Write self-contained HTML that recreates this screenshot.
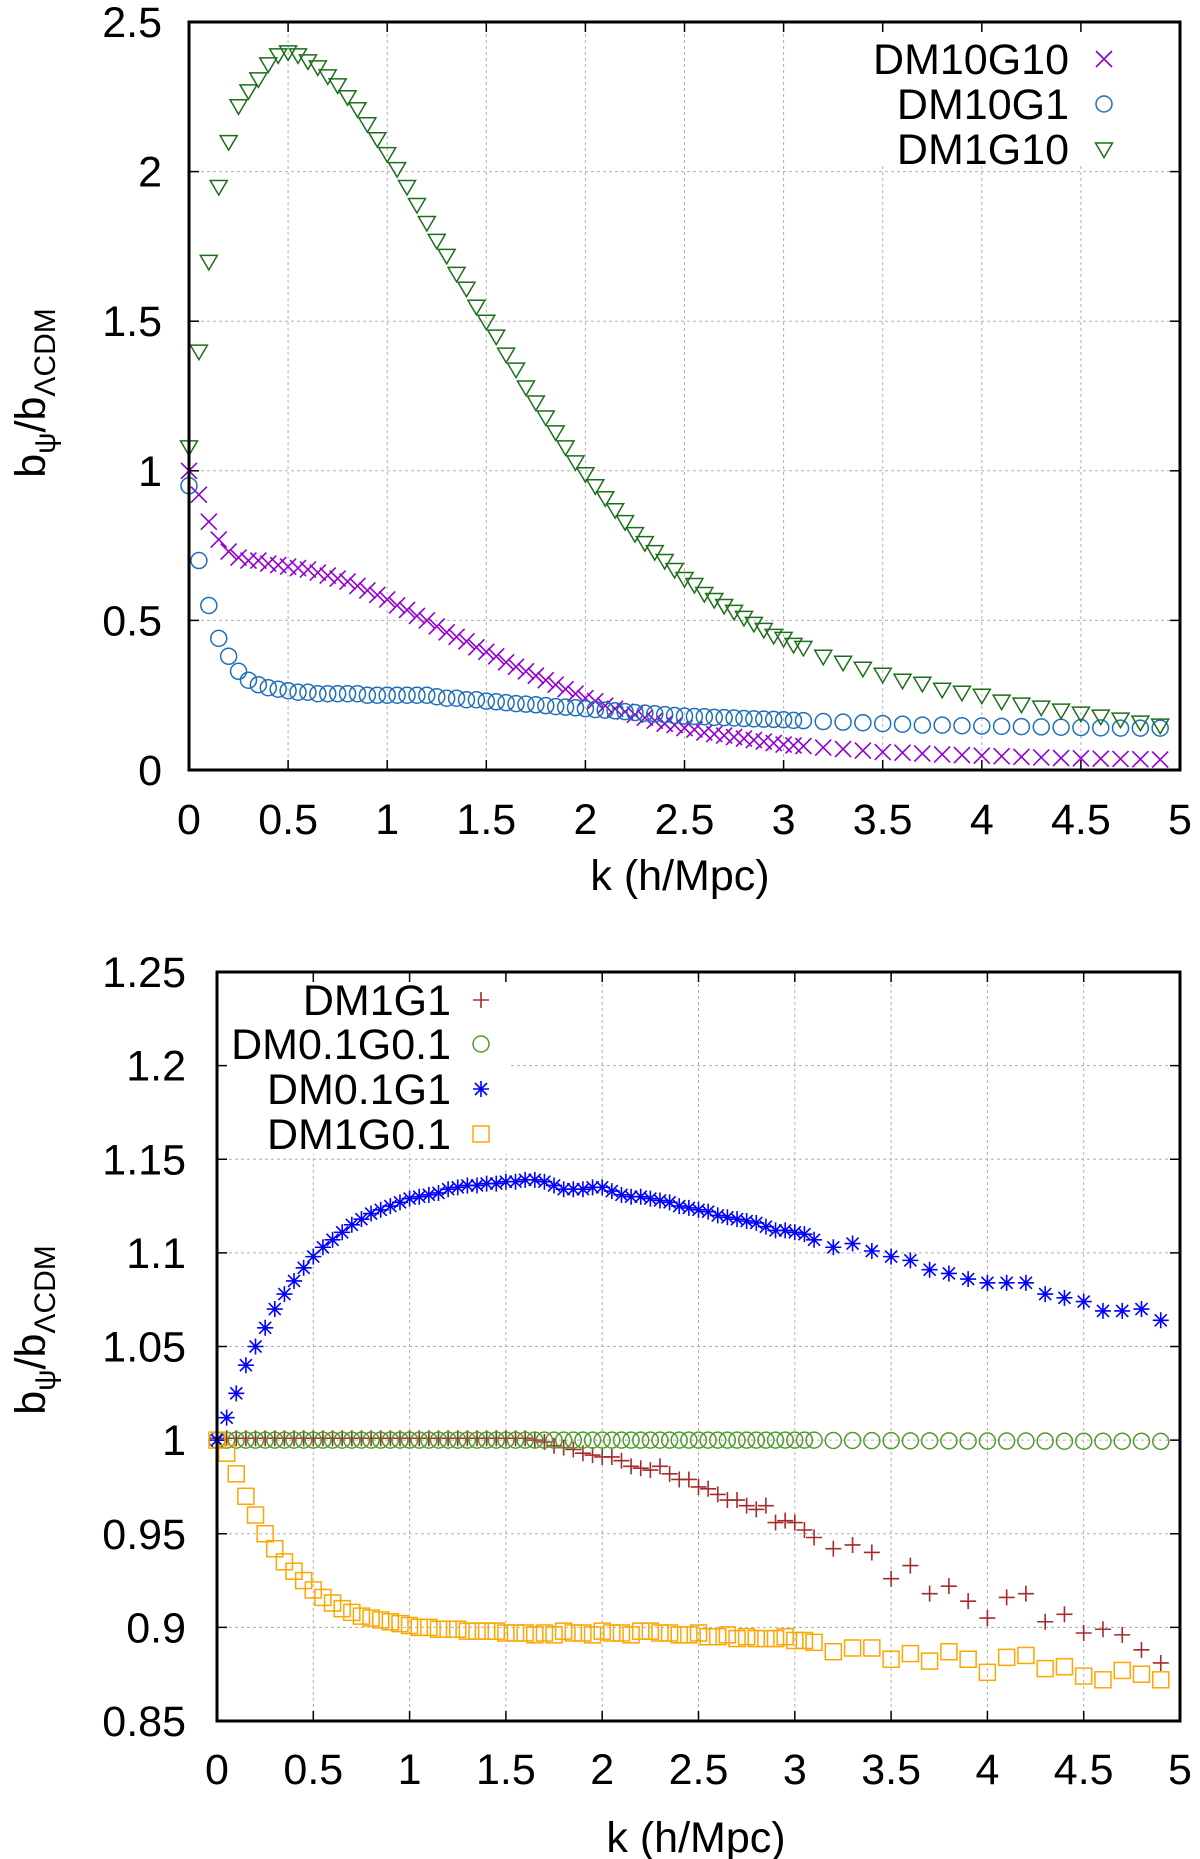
<!DOCTYPE html>
<html><head><meta charset="utf-8"><style>
html,body{margin:0;padding:0;background:#fff;}
svg{display:block;font-family:"Liberation Sans",sans-serif;}
</style></head>
<body>
<svg id="fig" width="1200" height="1859" viewBox="0 0 1200 1859" xmlns="http://www.w3.org/2000/svg"></svg>
<script>
// ---------- data ----------
const kValues = [0,0.05,0.1,0.15,0.2,0.25,0.3,0.35,0.4,0.45,0.5,0.55,0.6,0.65,0.7,0.75,0.8,0.85,0.9,0.95,1.0,1.05,1.1,1.15,1.2,1.25,1.3,1.35,1.4,1.45,1.5,1.55,1.6,1.65,1.7,1.75,1.8,1.85,1.9,1.95,2.0,2.05,2.1,2.15,2.2,2.25,2.3,2.35,2.4,2.45,2.5,2.55,2.6,2.65,2.7,2.75,2.8,2.85,2.9,2.95,3.0,3.05,3.1,3.2,3.3,3.4,3.5,3.6,3.7,3.8,3.9,4.0,4.1,4.2,4.3,4.4,4.5,4.6,4.7,4.8,4.9];
const xTicks = [0,0.5,1,1.5,2,2.5,3,3.5,4,4.5,5];
const xTickLabels = ["0","0.5","1","1.5","2","2.5","3","3.5","4","4.5","5"];
const topYTicks = [0,0.5,1,1.5,2,2.5];
const topYTickLabels = ["0","0.5","1","1.5","2","2.5"];
const botYTicks = [0.85,0.9,0.95,1,1.05,1.1,1.15,1.2,1.25];
const botYTickLabels = ["0.85","0.9","0.95","1","1.05","1.1","1.15","1.2","1.25"];

const dm1g10 = [1.08,1.40,1.70,1.95,2.10,2.22,2.27,2.31,2.36,2.39,2.40,2.39,2.37,2.35,2.32,2.29,2.25,2.21,2.16,2.11,2.06,2.01,1.95,1.89,1.83,1.77,1.72,1.66,1.61,1.55,1.50,1.45,1.39,1.34,1.28,1.23,1.18,1.13,1.08,1.03,0.99,0.95,0.91,0.87,0.83,0.79,0.76,0.73,0.70,0.67,0.64,0.62,0.59,0.57,0.55,0.53,0.51,0.49,0.47,0.45,0.44,0.42,0.41,0.38,0.36,0.34,0.32,0.30,0.29,0.27,0.26,0.25,0.23,0.22,0.21,0.20,0.19,0.18,0.17,0.16,0.15];
const dm10g10 = [1.0,0.92,0.83,0.77,0.73,0.71,0.70,0.70,0.69,0.685,0.68,0.675,0.67,0.66,0.65,0.64,0.63,0.615,0.60,0.585,0.57,0.55,0.535,0.515,0.50,0.48,0.46,0.445,0.43,0.41,0.395,0.38,0.36,0.345,0.33,0.315,0.30,0.285,0.27,0.255,0.24,0.23,0.215,0.205,0.195,0.185,0.175,0.165,0.155,0.15,0.14,0.135,0.125,0.12,0.115,0.11,0.105,0.10,0.095,0.09,0.085,0.082,0.08,0.075,0.07,0.065,0.06,0.058,0.055,0.052,0.05,0.048,0.046,0.044,0.042,0.04,0.039,0.038,0.037,0.036,0.035];
const dm10g1 = [0.95,0.70,0.55,0.44,0.38,0.33,0.30,0.285,0.275,0.27,0.265,0.26,0.26,0.255,0.255,0.255,0.255,0.255,0.25,0.25,0.25,0.25,0.25,0.25,0.25,0.245,0.24,0.24,0.235,0.235,0.23,0.228,0.225,0.222,0.22,0.218,0.215,0.212,0.21,0.208,0.205,0.202,0.2,0.198,0.195,0.192,0.19,0.188,0.185,0.182,0.18,0.179,0.178,0.176,0.175,0.174,0.172,0.171,0.17,0.169,0.168,0.166,0.165,0.162,0.16,0.158,0.155,0.153,0.15,0.15,0.148,0.147,0.146,0.145,0.144,0.143,0.142,0.141,0.14,0.14,0.14];

const dm1g1 = [1.001,1.001,1.001,1.001,1.001,1.001,1.001,1.001,1.001,1.001,1.001,1.001,1.001,1.001,1.001,1.001,1.001,1.001,1.001,1.001,1.001,1.001,1.001,1.001,1.001,1.001,1.001,1.001,1.001,1.001,1.001,1.001,1.001,1.0,0.999,0.997,0.996,0.995,0.993,0.992,0.991,0.991,0.989,0.986,0.985,0.984,0.986,0.982,0.979,0.979,0.975,0.974,0.971,0.968,0.968,0.965,0.963,0.965,0.956,0.957,0.956,0.952,0.948,0.942,0.944,0.940,0.926,0.933,0.918,0.922,0.914,0.905,0.916,0.918,0.903,0.907,0.897,0.899,0.896,0.888,0.881];
const dm01g01 = [1.0,1.0,1.0,1.0,1.0,1.0,1.0,1.0,1.0,1.0,1.0,1.0,1.0,1.0,1.0,1.0,1.0,1.0,1.0,1.0,1.0,1.0,1.0,1.0,1.0,1.0,1.0,1.0,1.0,1.0,1.0,1.0,1.0,1.0,1.0,1.0,1.0,1.0,1.0,1.0,1.0,1.0,1.0,1.0,1.0,1.0,1.0,1.0,1.0,1.0,1.0,1.0,1.0,1.0,1.0,1.0,1.0,1.0,1.0,1.0,1.0,1.0,1.0,0.9998,0.9998,0.9997,0.9997,0.9996,0.9996,0.9996,0.9995,0.9995,0.9995,0.9995,0.9995,0.9994,0.9994,0.9994,0.9994,0.9994,0.9993];
const dm01g1 = [1.0,1.012,1.025,1.04,1.05,1.06,1.07,1.078,1.085,1.092,1.098,1.103,1.107,1.111,1.115,1.118,1.121,1.123,1.125,1.127,1.129,1.13,1.131,1.132,1.134,1.135,1.136,1.136,1.137,1.137,1.138,1.138,1.139,1.139,1.138,1.136,1.134,1.134,1.134,1.135,1.135,1.133,1.131,1.130,1.130,1.129,1.128,1.127,1.125,1.124,1.123,1.122,1.120,1.119,1.118,1.117,1.116,1.114,1.112,1.112,1.111,1.110,1.107,1.103,1.105,1.101,1.098,1.096,1.091,1.089,1.086,1.084,1.084,1.084,1.078,1.076,1.074,1.069,1.069,1.070,1.064];
const dm1g01 = [1.0,0.993,0.982,0.97,0.96,0.95,0.942,0.935,0.93,0.925,0.92,0.916,0.913,0.91,0.908,0.906,0.905,0.904,0.903,0.902,0.901,0.900,0.900,0.899,0.899,0.899,0.898,0.898,0.898,0.898,0.897,0.897,0.897,0.896,0.897,0.896,0.898,0.897,0.897,0.896,0.898,0.897,0.897,0.896,0.898,0.898,0.897,0.897,0.896,0.896,0.897,0.895,0.895,0.896,0.894,0.895,0.894,0.894,0.894,0.895,0.893,0.893,0.892,0.887,0.889,0.889,0.883,0.886,0.882,0.887,0.883,0.876,0.884,0.885,0.878,0.879,0.874,0.872,0.877,0.875,0.872];

// ---------- helpers ----------
const NS = "http://www.w3.org/2000/svg";
const svg = document.getElementById('fig');
function mk(tag, attrs, parent){
  const e = document.createElementNS(NS, tag);
  for (const k in attrs) e.setAttribute(k, attrs[k]);
  (parent||svg).appendChild(e);
  return e;
}
function marker(g, type, x, y, color){
  const s = 8;
  let e;
  if (type === 'x') {
    e = mk('path', {d:`M${x-s} ${y-s}L${x+s} ${y+s}M${x-s} ${y+s}L${x+s} ${y-s}`, stroke:color, 'stroke-width':1.6, fill:'none'}, g);
  } else if (type === 'plus') {
    e = mk('path', {d:`M${x-s} ${y}L${x+s} ${y}M${x} ${y-s}L${x} ${y+s}`, stroke:color, 'stroke-width':1.6, fill:'none'}, g);
  } else if (type === 'circle') {
    e = mk('circle', {cx:x, cy:y, r:8, stroke:color, 'stroke-width':1.5, fill:'none'}, g);
  } else if (type === 'tri') {
    e = mk('path', {d:`M${x-8.5} ${y-6}L${x+8.5} ${y-6}L${x} ${y+8.5}Z`, stroke:color, 'stroke-width':1.5, fill:'none'}, g);
  } else if (type === 'star') {
    e = mk('path', {d:`M${x-s} ${y}L${x+s} ${y}M${x} ${y-s}L${x} ${y+s}M${x-6} ${y-6}L${x+6} ${y+6}M${x-6} ${y+6}L${x+6} ${y-6}`, stroke:color, 'stroke-width':1.6, fill:'none'}, g);
  } else if (type === 'square') {
    e = mk('rect', {x:x-8, y:y-8, width:16, height:16, stroke:color, 'stroke-width':1.5, fill:'none'}, g);
  }
  return e;
}

function drawPanel(cfg){
  const P = cfg;
  const sx = k => P.x0 + (k - 0) / 5 * (P.x1 - P.x0);
  const sy = v => P.y1 - (v - P.ymin) / (P.ymax - P.ymin) * (P.y1 - P.y0);
  const g = mk('g', {});
  
  
  const grid = mk('g', {stroke:'#b0b0b0', 'stroke-width':1, 'stroke-dasharray':'3,3'}, g);
  
  
  xTicks.forEach(t => { if (t > 0 && t < 5) mk('line', {x1:sx(t), x2:sx(t), y1:P.y0, y2:P.y1}, grid); });
  P.yTicks.forEach(t => { if (t > P.ymin && t < P.ymax) mk('line', {x1:P.x0, x2:P.x1, y1:sy(t), y2:sy(t)}, grid); });
  const m = mk('rect', {x:P.mask[0], y:P.mask[1], width:P.mask[2], height:P.mask[3], fill:'#fff'}, g);
  
  
  const tk = mk('g', {stroke:'#000', 'stroke-width':1.5}, g);
  xTicks.forEach(t => {
    mk('line', {x1:sx(t), x2:sx(t), y1:P.y1, y2:P.y1-10}, tk);
    mk('line', {x1:sx(t), x2:sx(t), y1:P.y0, y2:P.y0+10}, tk);
  });
  P.yTicks.forEach(t => {
    mk('line', {x1:P.x0, x2:P.x0+10, y1:sy(t), y2:sy(t)}, tk);
    mk('line', {x1:P.x1, x2:P.x1-10, y1:sy(t), y2:sy(t)}, tk);
  });
  xTicks.forEach((t, i) => {
    const e = mk('text', {x:sx(t), y:P.xLabelY, 'text-anchor':'middle', 'font-size':43, fill:'#000'}, g);
    e.textContent = xTickLabels[i];
    
    
  });
  P.yTicks.forEach((t, i) => {
    const e = mk('text', {x:P.yLabelX, y:sy(t)+15, 'text-anchor':'end', 'font-size':43, fill:'#000'}, g);
    e.textContent = P.yLabels[i];
    
    
  });
  const xt = mk('text', {x:P.xTitleX, y:P.xTitleY, 'text-anchor':'middle', 'font-size':43, fill:'#000'}, g);
  xt.textContent = 'k (h/Mpc)';
  
  
  const yt = mk('text', {x:0, y:0, 'text-anchor':'middle', 'font-size':43, fill:'#000', transform:`translate(${P.yTitleX},${P.yTitleY}) rotate(-90)`}, g);
  yt.innerHTML = 'b<tspan font-size="30" dy="10">ψ</tspan><tspan dy="-10">/b</tspan><tspan font-size="30" dy="10">ΛCDM</tspan>';
  
  
  P.series.forEach((s, si) => {
    const sg = mk('g', {}, g);
    
    
    const n = Math.min(kValues.length, s.values.length);
    for (let i = 0; i < n; i++) {
      const pt = marker(sg, s.type, sx(kValues[i]), sy(s.values[i]), s.color);
      
      
    }
    const ly = P.legendY[si];
    const lt = mk('text', {x:P.legendTextX, y:ly+15, 'text-anchor':'end', 'font-size':43, fill:'#000'}, g);
    lt.textContent = s.label;
    
    
    const lm = marker(g, s.type, P.legendMarkX, ly, s.color);
    
    
  });
  const fr = mk('rect', {x:P.x0, y:P.y0, width:P.x1-P.x0, height:P.y1-P.y0, fill:'none', stroke:'#000', 'stroke-width':3}, g);
  
  
}

drawPanel({
  name:'top-panel', x0:189, x1:1180, y0:22, y1:770, ymin:0, ymax:2.5,
  yTicks: topYTicks, yLabels: topYTickLabels,
  xLabelY:834, yLabelX:162, xTitleX:680, xTitleY:890, yTitleX:45, yTitleY:393,
  mask:[860,24,318,140],
  legendTextX:1069, legendMarkX:1104, legendY:[59,104,149],
  series:[
    {label:'DM10G10', type:'x', color:'#9400d3', values:dm10g10},
    {label:'DM10G1', type:'circle', color:'#1f6fb8', values:dm10g1},
    {label:'DM1G10', type:'tri', color:'#1c6e1c', values:dm1g10}
  ]
});
drawPanel({
  name:'bottom-panel', x0:217, x1:1180, y0:972, y1:1721, ymin:0.85, ymax:1.25,
  yTicks: botYTicks, yLabels: botYTickLabels,
  xLabelY:1784, yLabelX:186, xTitleX:696, xTitleY:1852, yTitleX:45, yTitleY:1330,
  mask:[219,974,292,180],
  legendTextX:451, legendMarkX:481, legendY:[1000,1044,1089,1134],
  series:[
    {label:'DM1G1', type:'plus', color:'#a52a2a', values:dm1g1},
    {label:'DM0.1G0.1', type:'circle', color:'#4f9a2c', values:dm01g01},
    {label:'DM0.1G1', type:'star', color:'#0000ff', values:dm01g1},
    {label:'DM1G0.1', type:'square', color:'#ffa500', values:dm1g01}
  ]
});
</script>
</body></html>
